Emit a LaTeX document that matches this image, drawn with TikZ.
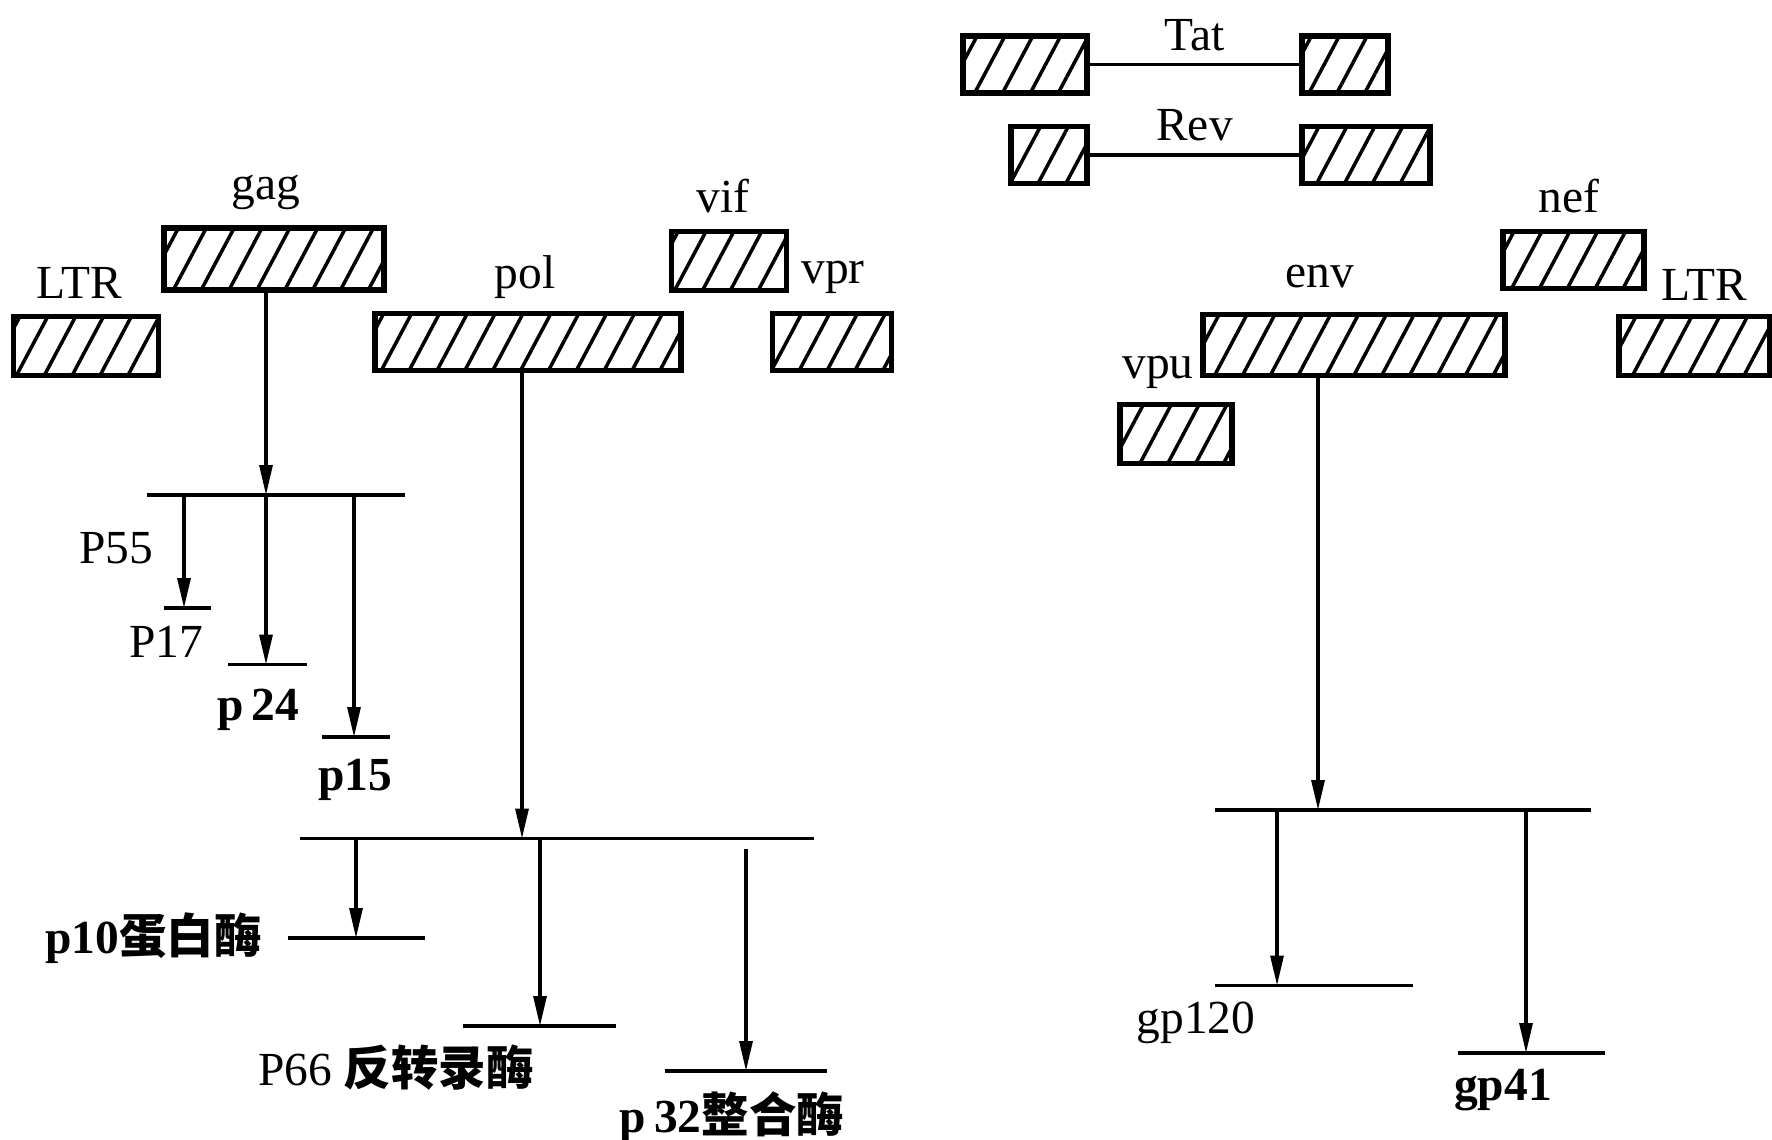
\documentclass[tikz,border=0pt]{standalone}
\usepackage{fontspec}
\setmainfont{Liberation Serif}
\newfontfamily\cjk{Noto Sans CJK SC}
\usetikzlibrary{arrows.meta, calc, patterns.meta}

\begin{document}
\begin{tikzpicture}[x=0.1mm, y=-0.1mm, >={Triangle[length=3mm, width=1.3mm]},
  every node/.style={font=\fontsize{13.5}{15}\selectfont},
  gene/.style={draw, line width=1.5pt, inner sep=0pt, minimum height=5.7mm,
    pattern={Lines[angle=62, distance=7pt, line width=1pt]}},
  cut/.style={line width=1.1pt},
  arr/.style={->, line width=0.9pt}]
  \useasboundingbox (0,0) rectangle (1772,1140);

  % genes, left half
  \node[gene, minimum width=14.5mm, minimum height=5.9mm] (ltrL) at (86,346) {};
  \node[gene, minimum width=22mm, minimum height=6.2mm] (gag) at (274,259) {};
  \node[gene, minimum width=30.6mm] (pol) at (528,342) {};
  \node[gene, minimum width=11.5mm, minimum height=5.9mm] (vif) at (729,261) {};
  \node[gene, minimum width=11.9mm] (vpr) at (832,342) {};
  \node at (79,283) {LTR};
  \node at (266,192) {gag};
  \node at (525,277) {pol};
  \node at (723,196) {vif};
  \node at (833,277) {vpr};

  % genes, right half
  \node[gene, minimum width=12.4mm] (tat1) at (1025,64.5) {};
  \node[gene, minimum width=8.6mm] (tat2) at (1345,64.5) {};
  \node[gene, minimum width=7.6mm] (rev1) at (1049,155) {};
  \node[gene, minimum width=12.8mm] (rev2) at (1366,155) {};
  \draw[cut] (tat1) -- (tat2) node[midway, above=0pt] {Tat};
  \draw[cut] (rev1) -- (rev2) node[midway, above=0pt] {Rev};
  \node[gene, minimum width=14.1mm] (nef) at (1573.5,260) {};
  \node[gene, minimum width=15.1mm, minimum height=5.9mm] (ltrR) at (1694.5,346) {};
  \node[gene, minimum width=30.2mm, minimum height=6.1mm] (env) at (1354,345) {};
  \node[gene, minimum width=11.2mm, minimum height=5.9mm] (vpu) at (1176,434) {};
  \node at (1569,196) {nef};
  \node at (1704,285) {LTR};
  \node at (1320,277) {env};
  \node at (1158,372) {vpu};

  % gag products
  \coordinate (gagcut) at (266,495);
  \draw[cut] ($(gagcut)+(-119,0)$) -- ($(gagcut)+(139,0)$);
  \draw[arr] (gag.south -| gagcut) -- (gagcut);
  \coordinate (p17) at (184,608);
  \coordinate (p24) at (266,664.5);
  \coordinate (p15) at (354,737);
  \draw[cut] ($(p17)+(-20,0)$) -- ($(p17)+(27,0)$);
  \draw[cut] ($(p24)+(-38,0)$) -- ($(p24)+(41,0)$);
  \draw[cut] ($(p15)+(-32,0)$) -- ($(p15)+(36,0)$);
  \draw[arr] (gagcut -| p17) -- (p17);
  \draw[arr] (gagcut) -- (p24);
  \draw[arr] (gagcut -| p15) -- (p15);
  \node at (116,548) {P55};
  \node at (166,642) {P17};
  \node at (258,710) {\bfseries p\,24};
  \node at (355,780) {\bfseries p15};

  % pol products
  \coordinate (polcut) at (522,838.5);
  \draw[cut] ($(polcut)+(-222.5,0)$) -- ($(polcut)+(292,0)$);
  \draw[arr] (pol.south -| polcut) -- (polcut);
  \coordinate (p10) at (356,938);
  \coordinate (p66) at (540,1026);
  \coordinate (p32) at (746,1071);
  \draw[cut] ($(p10)+(-68,0)$) -- ($(p10)+(69,0)$);
  \draw[cut] ($(p66)+(-77,0)$) -- ($(p66)+(76,0)$);
  \draw[cut] ($(p32)+(-81.5,0)$) -- ($(p32)+(81,0)$);
  \draw[arr] (polcut -| p10) -- (p10);
  \draw[arr] (polcut -| p66) -- (p66);
  \draw[arr] ($(polcut -| p32)+(0,10)$) -- (p32);
  \node[anchor=east] at (274,938) {\bfseries p10{\cjk 蛋白酶}};
  \node at (396,1068) {P66 {\cjk\bfseries 反转录酶}};
  \node at (732,1117) {\bfseries p\,32{\cjk 整合酶}};

  % env products
  \coordinate (envcut) at (1318,810);
  \draw[cut] ($(envcut)+(-103,0)$) -- ($(envcut)+(273,0)$);
  \draw[arr] (env.south -| envcut) -- (envcut);
  \coordinate (gp120) at (1277,985.5);
  \coordinate (gp41) at (1526,1053);
  \draw[cut] ($(gp120)+(-62,0)$) -- ($(gp120)+(136,0)$);
  \draw[cut] ($(gp41)+(-68,0)$) -- ($(gp41)+(79,0)$);
  \draw[arr] (envcut -| gp120) -- (gp120);
  \draw[arr] (envcut -| gp41) -- (gp41);
  \node at (1196,1023) {gp120};
  \node at (1503,1090) {\bfseries gp41};
\end{tikzpicture}
\end{document}
